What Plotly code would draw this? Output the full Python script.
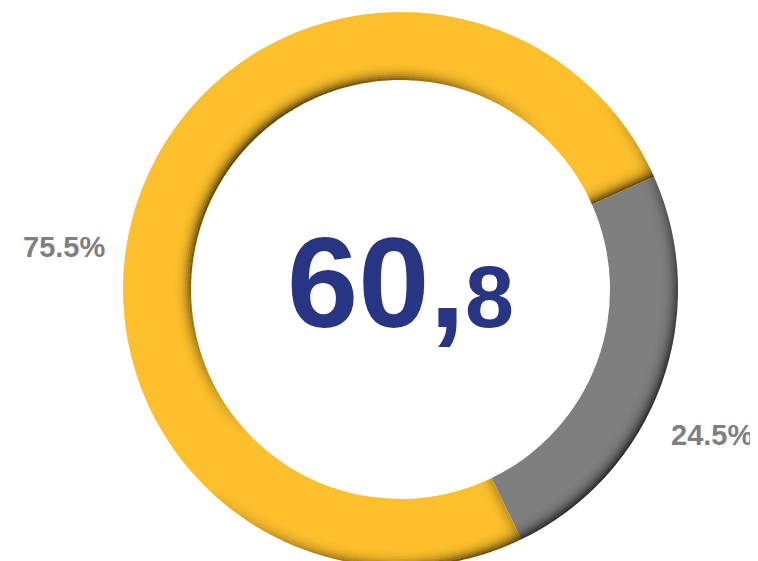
import math
import plotly.graph_objects as go

labels = ["Gray", "Yellow"]
values = [24.5, 75.5]
colors = ["#7F7F7F", "#FDC02D"]
label_text = ["24.5%", "75.5%"]
center_main = "60,"
center_small = "8"

W, H = 758, 561
ml, mt, mr, mb = 27, 4, 0, 2
PW, PH = W - ml - mr, H - mt - mb
CX, CY = 392.5, 281.5          # pie centre in figure pixels
R_OUT, R_IN = 277.5, 209.5
ROT = 66

def px2paper(x, y):
    return (x - ml) / PW, 1 - (y - mt) / PH

def domain_for(r):
    return dict(x=[(CX - r - ml) / PW, (CX + r - ml) / PW],
                y=[1 - (CY + r - mt) / PH, 1 - (CY - r - mt) / PH])

fig = go.Figure()
fig.add_trace(go.Pie(
    labels=labels, values=values, sort=False, direction="clockwise",
    rotation=ROT, hole=R_IN / R_OUT, textinfo="none", domain=domain_for(R_OUT),
    marker=dict(colors=colors, line=dict(width=0)),
    showlegend=False, hoverinfo="label+percent",
))

# ---- inner-shadow decoration (light from top-left) ----
total = sum(values)
spans = [v / total * 360 for v in values]
starts = [ROT]
for s in spans[:-1]:
    starts.append(starts[-1] + s)

sec_ang = []   # (centre angle, segment index)
sec_vals = []
FINE, COARSE, EDGE = 0.35, 1.5, 7.0
for i, (st, sp) in enumerate(zip(starts, spans)):
    edges = [0.0]
    while edges[-1] < sp - 1e-9:
        a = edges[-1]
        step = FINE if (a < EDGE or a > sp - EDGE - FINE) else COARSE
        nxt = min(a + step, sp)
        if sp - nxt < FINE * 0.5:
            nxt = sp
        edges.append(nxt)
    for a0, a1 in zip(edges[:-1], edges[1:]):
        sec_ang.append((st + (a0 + a1) / 2, i))
        sec_vals.append(values[i] * (a1 - a0) / sp)

L = (1 / math.sqrt(2), 1 / math.sqrt(2))  # shadow direction (down-right in screen)
A, WID = 0.7, 6.5

def prof(d):
    d = max(d, 0.0)
    return math.exp(-(d / WID) ** 1.4)

def alpha_at(r, ang_deg, seg):
    th = math.radians(ang_deg)
    pos = (math.sin(th), -math.cos(th))
    parts = []
    f = max(0.0, -(pos[0] * L[0] + pos[1] * L[1]))
    parts.append(A * f * prof(r - R_IN))
    f = max(0.0, pos[0] * L[0] + pos[1] * L[1])
    parts.append(A * f * prof(R_OUT - r))
    st = starts[seg]
    en = st + spans[seg]
    te = math.radians(en)
    ne = (math.cos(te), math.sin(te))
    f = max(0.0, ne[0] * L[0] + ne[1] * L[1])
    parts.append(A * f * prof(r * math.radians(en - ang_deg)))
    ts = math.radians(st)
    ns = (-math.cos(ts), -math.sin(ts))
    f = max(0.0, ns[0] * L[0] + ns[1] * L[1])
    parts.append(A * f * prof(r * math.radians(ang_deg - st)))
    keep = 1.0
    for p in parts:
        keep *= (1 - p)
    return 1 - keep

band = 2.0
r0 = R_IN
while r0 < R_OUT - 1e-6:
    r1 = min(r0 + band, R_OUT)
    rc = (r0 + r1) / 2
    cols = []
    for (ang, seg) in sec_ang:
        al = alpha_at(rc, ang, seg)
        cols.append("rgba(0,0,0,%.3f)" % (al if al > 0.01 else 0))
    fig.add_trace(go.Pie(
        values=sec_vals, sort=False, direction="clockwise", rotation=ROT,
        hole=r0 / r1, textinfo="none", domain=domain_for(r1),
        marker=dict(colors=cols, line=dict(width=0)),
        showlegend=False, hoverinfo="skip",
    ))
    r0 = r1

ann = []
for txt, (px, py) in zip(label_text, [(704, 427.3), (56, 239.3)]):
    x, y = px2paper(px, py)
    ann.append(dict(x=x, y=y, xref="paper", yref="paper", text=f"<b>{txt}</b>",
                    showarrow=False,
                    font=dict(family="Liberation Sans, Arial", size=29, color="#7F7F7F"),
                    xanchor="center", yanchor="middle"))
x, y = px2paper(392.5, 274)
ann.append(dict(x=x, y=y, xref="paper", yref="paper",
                text=f"<b>{center_main}<span style='font-size:88px'>{center_small}</span></b>",
                showarrow=False,
                font=dict(family="Liberation Sans, Arial", size=128, color="#283583"),
                xanchor="center", yanchor="middle"))

fig.update_layout(width=W, height=H, autosize=False,
                  margin=dict(l=ml, r=mr, t=mt, b=mb),
                  paper_bgcolor="white", plot_bgcolor="white",
                  annotations=ann)
fig.write_html("out.html")
